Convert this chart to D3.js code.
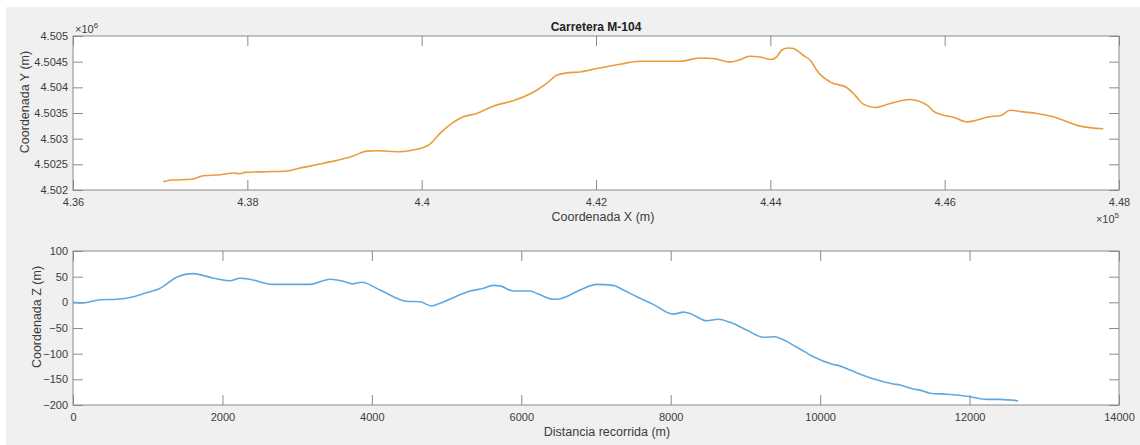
<!DOCTYPE html>
<html>
<head>
<meta charset="utf-8">
<script src="https://cdn.jsdelivr.net/npm/d3@7"></script>
<style>
  body { margin: 0; background: #fff; }
  svg text { font-family: "Liberation Sans", Arial, sans-serif; }
</style>
</head>
<body>
<svg id="chart" width="1140" height="445"></svg>
<script>
// coordenadas planta (m)
var coordX = [437036, 437132, 437362, 437495, 437686, 437839, 437916, 437973, 438222, 438452,
  438604, 438834, 439025, 439216, 439369, 439484, 439751, 439904, 440095, 440210,
  440478, 440631, 440822, 441090, 441320, 441434, 441549, 441664, 441816, 442008,
  442275, 442505, 442963, 443193, 443346, 443537, 443632, 443767, 443881, 444015,
  444073, 444130, 444206, 444263, 444378, 444474, 444532, 444684, 444876, 444971,
  445066, 445201, 445373, 445602, 445812, 445869, 445984, 446099, 446253, 446328,
  446482, 446654, 446749, 446902, 447056, 447246, 447552, 447820]
var coordY = [4502161, 4502194, 4502208, 4502278, 4502297, 4502331, 4502317, 4502344, 4502356, 4502369,
  4502428, 4502506, 4502577, 4502661, 4502758, 4502764, 4502745, 4502778, 4502894, 4503102,
  4503425, 4503491, 4503633, 4503763, 4503944, 4504075, 4504236, 4504281, 4504300, 4504366,
  4504450, 4504508, 4504508, 4504572, 4504561, 4504495, 4504528, 4504605, 4504592, 4504541,
  4504592, 4504722, 4504767, 4504755, 4504625, 4504495, 4504333, 4504106, 4503997, 4503847,
  4503672, 4503608, 4503686, 4503763, 4503633, 4503536, 4503458, 4503419, 4503328, 4503342,
  4503419, 4503458, 4503555, 4503522, 4503491, 4503425, 4503244, 4503192]

// perfil longitudinal
var distancia = [0, 140, 360, 585, 810, 990, 1160, 1390, 1520, 1610, 1880, 2100, 2235, 2325,
  2680, 3170, 3440, 3620, 3750, 3865, 4110, 4465, 4645, 4800, 4910, 5135, 5315, 5490, 5625,
  5715, 5895, 6115, 6230, 6430, 6520, 6785, 7010, 7230, 7365, 7545, 7765, 8035, 8170, 8280,
  8480, 8635, 8795, 9015, 9240, 9395, 9460, 9685, 9910, 10155, 10265, 10400, 10665, 10980,
  11070, 11245, 11335, 11470, 11695, 11870, 12005, 12230, 12405, 12650]
var cotaZ = [0, -1, 5, 6, 11, 19, 27, 49, 55, 56, 47, 42, 47, 46, 35, 35, 45, 41, 36, 39,
  24, 2, 1, -7, -2, 12, 22, 27, 33, 32, 22, 22, 16, 6, 7, 24, 35, 33, 24, 11, -4, -23, -19,
  -23, -36, -33, -39, -54, -68, -67, -70, -87, -106, -120, -124, -132, -147, -159, -161, -169,
  -171, -177, -179, -181, -184, -189, -189, -192]

var ticksX1 = [436000, 438000, 440000, 442000, 444000, 446000, 448000]
var ticksY1 = [4502000, 4502500, 4503000, 4503500, 4504000, 4504500, 4505000]
var ticksX2 = [0, 2000, 4000, 6000, 8000, 10000, 12000, 14000]
var ticksY2 = [-200, -150, -100, -50, 0, 50, 100]

var svg = d3.select("#chart")
var axisCol = "#8a8a8a"
var txtCol = "#3c3c3c"

svg.append("rect").attr("x", 6).attr("y", 7).attr("width", 1134).attr("height", 438).attr("fill", "#f0f0f0")

function drawPanel(top, bottom, xd, yd, xt, yt, xf, yf, xs, ys, col) {
  var left = 73, right = 1119
  var x = d3.scaleLinear().domain(xd).range([left, right])
  var y = d3.scaleLinear().domain(yd).range([bottom, top])
  var g = svg.append("g")
  g.append("rect").attr("x", left).attr("y", top).attr("width", right - left).attr("height", bottom - top)
    .attr("fill", "#fff").attr("stroke", axisCol).attr("stroke-width", 1)

  var ax = [
    g.append("g").attr("transform", "translate(0," + bottom + ")").call(d3.axisBottom(x).tickValues(xt).tickSize(-10).tickPadding(8).tickFormat(xf)),
    g.append("g").attr("transform", "translate(0," + top + ")").call(d3.axisTop(x).tickValues(xt).tickSize(-10).tickFormat("")),
    g.append("g").attr("transform", "translate(" + left + ",0)").call(d3.axisLeft(y).tickValues(yt).tickSize(-10).tickPadding(5).tickFormat(yf)),
    g.append("g").attr("transform", "translate(" + right + ",0)").call(d3.axisRight(y).tickValues(yt).tickSize(-10).tickFormat(""))
  ]
  ax.forEach(function(a) {
    a.select(".domain").remove()
    a.selectAll(".tick line").attr("stroke", axisCol)
    a.selectAll(".tick text").attr("fill", txtCol).style("font-size", "11px")
  })

  var line = d3.line().x(function(d) { return x(d[0]) }).y(function(d) { return y(d[1]) }).curve(d3.curveMonotoneX)
  g.append("path").datum(d3.zip(xs, ys)).attr("d", line)
    .attr("fill", "none").attr("stroke", col).attr("stroke-width", 1.6)
}

drawPanel(36, 190, [436000, 448000], [4502000, 4505000], ticksX1, ticksY1,
  function(d) { return +(d / 1e5).toFixed(2) }, function(d) { return +(d / 1e6).toFixed(4) },
  coordX, coordY, "#ec9b3e")

drawPanel(251, 405, [0, 14000], [-200, 100], ticksX2, ticksY2,
  d3.format("d"), d3.format("d"), distancia, cotaZ, "#5fa9e2")

// textos
svg.append("text").attr("x", 596).attr("y", 31).attr("text-anchor", "middle")
  .style("font-size", "12px").style("font-weight", "bold").attr("fill", "#222").text("Carretera M-104")

svg.append("text").attr("x", 603).attr("y", 221).attr("text-anchor", "middle")
  .style("font-size", "12.5px").attr("fill", txtCol).text("Coordenada X (m)")
svg.append("text").attr("x", 607).attr("y", 436).attr("text-anchor", "middle")
  .style("font-size", "12.5px").attr("fill", txtCol).text("Distancia recorrida (m)")

svg.append("text").attr("transform", "translate(29,102) rotate(-90)").attr("text-anchor", "middle")
  .style("font-size", "12.5px").attr("fill", txtCol).text("Coordenada Y (m)")
svg.append("text").attr("transform", "translate(41,317) rotate(-90)").attr("text-anchor", "middle")
  .style("font-size", "12.5px").attr("fill", txtCol).text("Coordenada Z (m)")

var e6 = svg.append("text").attr("x", 75).attr("y", 33).style("font-size", "11px").attr("fill", txtCol)
e6.append("tspan").text("\u00d710")
e6.append("tspan").attr("dy", -5).style("font-size", "8px").text("6")

var e5 = svg.append("text").attr("x", 1119).attr("y", 223).attr("text-anchor", "end").style("font-size", "11px").attr("fill", txtCol)
e5.append("tspan").text("\u00d710")
e5.append("tspan").attr("dy", -5).style("font-size", "8px").text("5")
</script>
</body>
</html>
